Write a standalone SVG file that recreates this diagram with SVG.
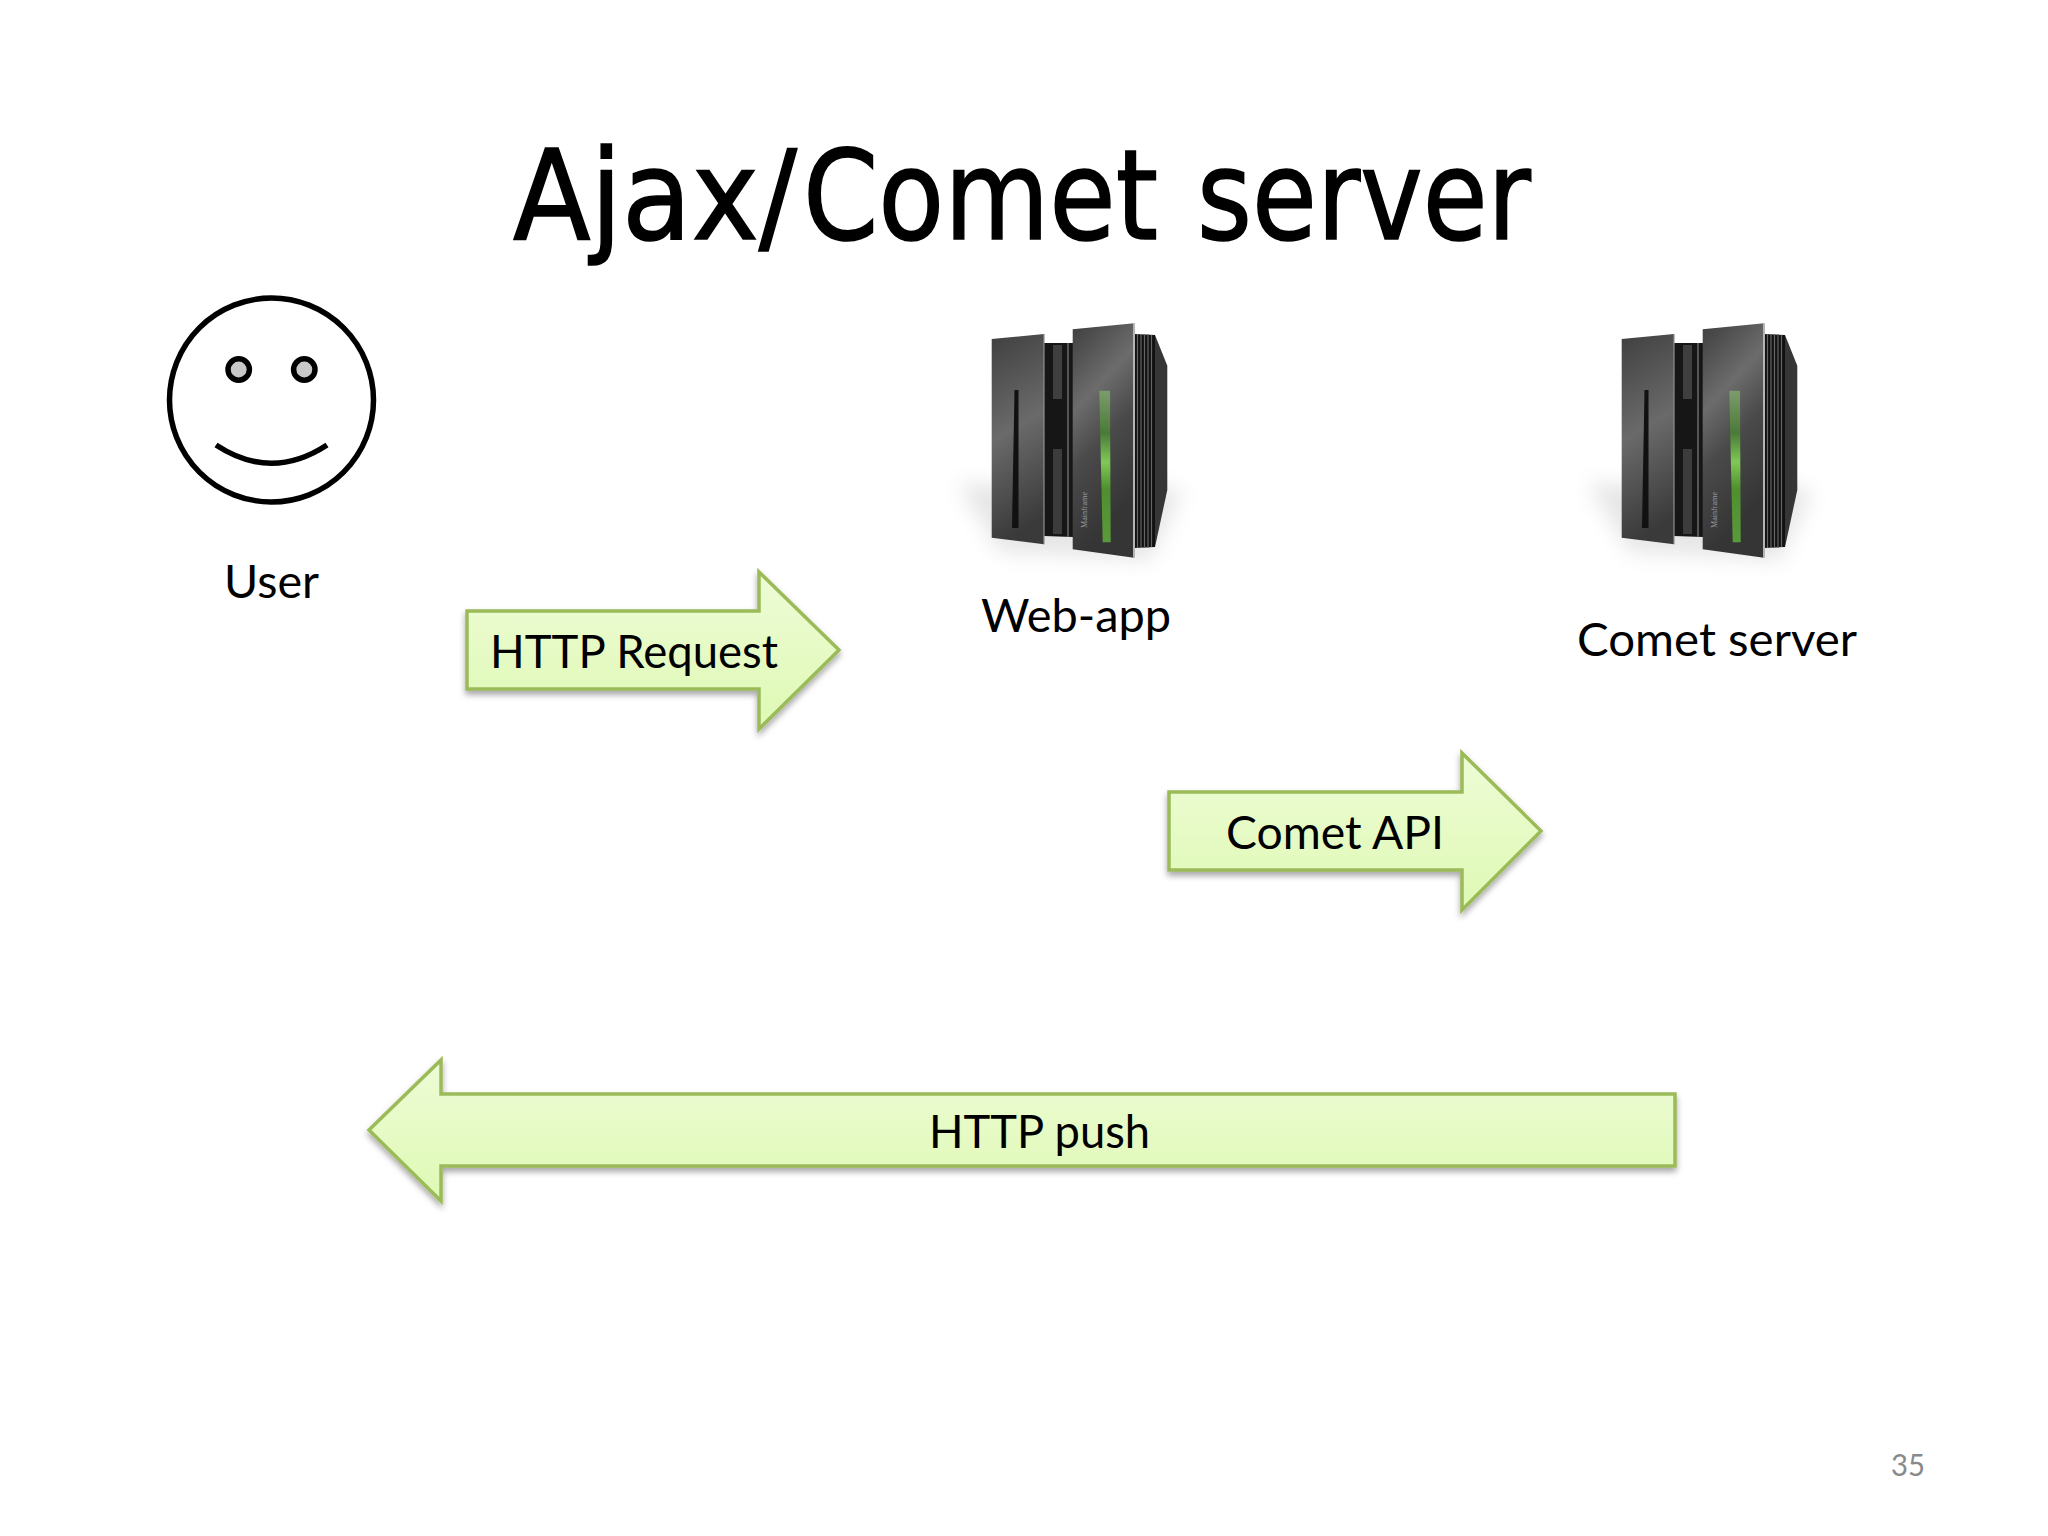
<svg xmlns="http://www.w3.org/2000/svg" width="2048" height="1536" viewBox="0 0 2048 1536">
<style>
.lbl{font-family:Lato,"Liberation Sans",sans-serif;font-size:46px;fill:#000}
.arrow{fill:url(#arrowFill);stroke:#9bbb59;stroke-width:3.5;stroke-linejoin:miter;filter:url(#drop)}
.title{font-family:"DejaVu Sans",sans-serif;font-size:125px;fill:#000;stroke:#000;stroke-width:1.6}
.brand{font-family:"Liberation Serif",serif;font-size:8.5px;fill:#9a9a9a}
.face{fill:none;stroke:#000;stroke-width:5.5}
.eye{fill:#c8c8c8;stroke:#000;stroke-width:5.5}
</style>
<defs>
<linearGradient id="arrowFill" x1="0" y1="0" x2="0" y2="1"><stop offset="0" stop-color="#eefcd6"/><stop offset="1" stop-color="#def9b4"/></linearGradient>
<filter id="drop" x="-10%" y="-10%" width="120%" height="125%"><feDropShadow dx="0" dy="4" stdDeviation="3" flood-color="#000" flood-opacity=".35"/></filter>
<filter id="soft" x="-30%" y="-30%" width="160%" height="160%"><feGaussianBlur stdDeviation="10"/></filter>
<linearGradient id="panelL" x1="0" y1="0" x2="0.15" y2="1"><stop offset="0" stop-color="#404040"/><stop offset=".5" stop-color="#6a6a6a"/><stop offset="1" stop-color="#3a3a3a"/></linearGradient>
<linearGradient id="panelR" x1="0" y1="0.05" x2="0.25" y2="0.95"><stop offset="0" stop-color="#444"/><stop offset=".34" stop-color="#6c6c6c"/><stop offset=".6" stop-color="#4a4a4a"/><stop offset="1" stop-color="#353535"/></linearGradient>
<linearGradient id="greenG" x1="0" y1="0" x2="0" y2="1"><stop offset="0" stop-color="#7c9c6c"/><stop offset=".28" stop-color="#4b7a38"/><stop offset=".47" stop-color="#80c856"/><stop offset=".65" stop-color="#4f8f2f"/><stop offset="1" stop-color="#5b9a3a"/></linearGradient>
<g id="server">
<polygon points="992,484 958,484 1000,552 1150,560 1182,492 1155,484" fill="#c8c8c8" opacity=".45" filter="url(#soft)"/>
<polygon points="1044,343 1073,343 1073,537 1044,536" fill="#161616"/>
<rect x="1053" y="345" width="9" height="54" fill="#3f3f3f"/>
<rect x="1053" y="449" width="9" height="85" fill="#3c3c3c"/>
<rect x="1067" y="343" width="2" height="194" fill="#555"/>
<polygon points="991.7,339 1044,334 1044,544.3 991.7,537.7" fill="url(#panelL)"/>
<line x1="1044" y1="334" x2="1044" y2="544.3" stroke="#8f8f8f" stroke-width="1.2"/>
<polygon points="1014.500,390 1018.500,390 1018.500,528 1012,528" fill="#111"/>
<polygon points="1155,335 1167.300,365.700 1167.300,490 1155,547" fill="#363636"/>
<polygon points="1134,334 1155,335 1155,547 1134,548" fill="#111"/>
<g stroke="#666" stroke-width="1.2"><line x1="1137.500" y1="334" x2="1137.500" y2="548"/><line x1="1141" y1="334" x2="1141" y2="548"/><line x1="1144.500" y1="334" x2="1144.500" y2="548"/><line x1="1148" y1="334" x2="1148" y2="548"/><line x1="1151.500" y1="335" x2="1151.500" y2="547"/></g>
<polygon points="1072.700,329.300 1134,323.300 1134,557.700 1072.700,549.300" fill="url(#panelR)"/>
<line x1="1134" y1="323.300" x2="1134" y2="557.700" stroke="#b5b5b5" stroke-width="2"/>
<polygon points="1099.300,390.700 1110,390.700 1110.700,542.300 1102.700,542.300" fill="url(#greenG)"/>
</g>
</defs>
<rect width="2048" height="1536" fill="#fff"/>
<text class="title" y="239"><tspan x="513" textLength="284" lengthAdjust="spacingAndGlyphs">Ajax/</tspan><tspan x="803" textLength="355" lengthAdjust="spacingAndGlyphs">Comet</tspan> <tspan x="1197" textLength="334" lengthAdjust="spacingAndGlyphs">server</tspan></text>
<g id="user">
<circle class="face" cx="271.500" cy="400" r="102"/>
<circle class="eye" cx="238.700" cy="369.500" r="10.700"/>
<circle class="eye" cx="304.300" cy="369.500" r="10.700"/>
<path class="face" d="M216 445Q271.500 481.500 327 445"/>
<text class="lbl" x="224" y="598" textLength="95" lengthAdjust="spacingAndGlyphs">User</text>
</g>
<g id="web-app">
<use href="#server"/>
<text class="brand" transform="translate(1087,528) rotate(-90)" textLength="36" lengthAdjust="spacingAndGlyphs">Mainframe</text>
<text class="lbl" x="981" y="632" textLength="190" lengthAdjust="spacingAndGlyphs">Web-app</text>
</g>
<g id="comet-server">
<use href="#server" x="630"/>
<text class="brand" transform="translate(1717,528) rotate(-90)" textLength="36" lengthAdjust="spacingAndGlyphs">Mainframe</text>
<text class="lbl" x="1577" y="656" textLength="280" lengthAdjust="spacingAndGlyphs">Comet server</text>
</g>
<g id="connectors">
<g id="http-request">
<polygon class="arrow" points="467,611 759,611 759,572 839,650 759,729 759,689 467,689"/>
<text class="lbl" x="490" y="668" textLength="288" lengthAdjust="spacingAndGlyphs">HTTP Request</text>
</g>
<g id="comet-api">
<polygon class="arrow" points="1169,792 1462,792 1462,753 1541,831 1462,910 1462,870 1169,870"/>
<text class="lbl" x="1226" y="849" textLength="218" lengthAdjust="spacingAndGlyphs">Comet API</text>
</g>
<g id="http-push">
<polygon class="arrow" points="1675,1094 441,1094 441,1060 369,1130 441,1201 441,1166 1675,1166"/>
<text class="lbl" x="929" y="1148" textLength="221" lengthAdjust="spacingAndGlyphs">HTTP push</text>
</g>
</g>
<text x="1891" y="1476" font-family="Lato,'Liberation Sans',sans-serif" font-size="31" fill="#8a8a8a" textLength="34" lengthAdjust="spacingAndGlyphs">35</text>
</svg>
